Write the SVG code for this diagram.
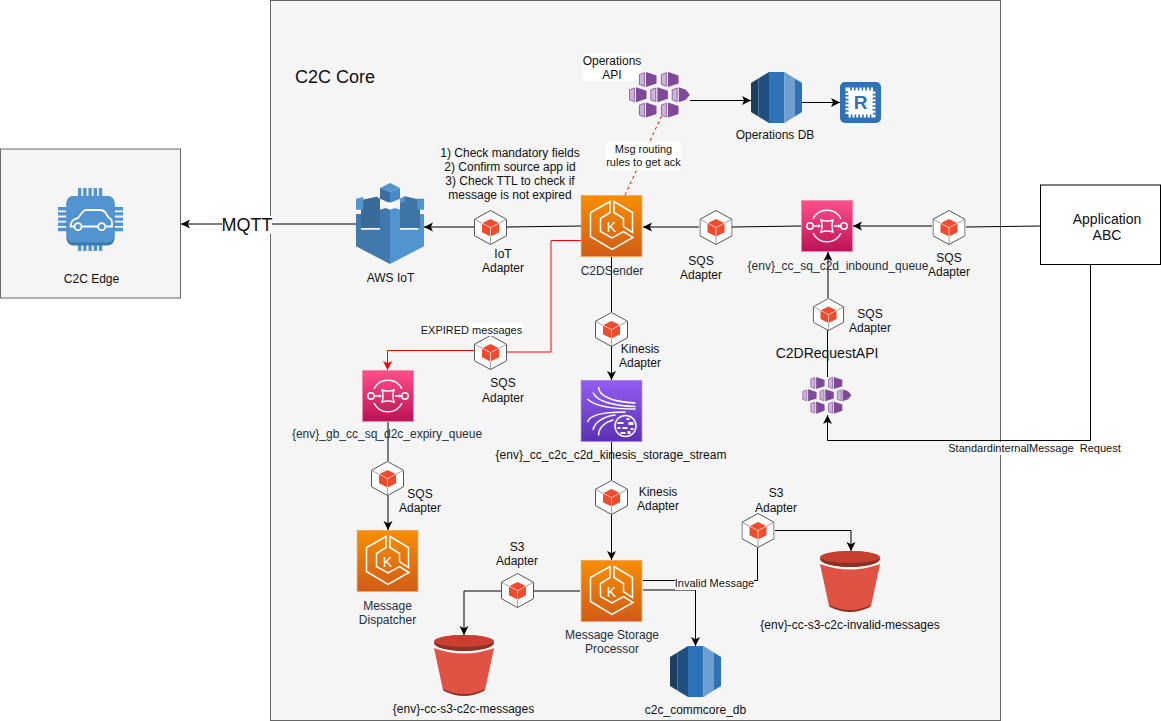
<svg xmlns="http://www.w3.org/2000/svg" width="1161" height="721" viewBox="0 0 1161 721">
<style>
text{font-family:"Liberation Sans",Arial,sans-serif;font-size:12px;text-anchor:middle;fill:#111;white-space:pre}
.a{fill:#232F3E}
.e{font-size:11px}
.box{fill:#f5f5f5;stroke:#666;stroke-width:1}
.ln{fill:none;stroke:#000;stroke-width:1}
.arr{marker-end:url(#ah)}
.red{fill:none;stroke:#f00;stroke-width:1}
.w{fill:none;stroke:#fff;stroke-width:1.5}
.bg{fill:#fff}
</style>
<defs>
<linearGradient id="go" x1="0" y1="0" x2="0" y2="1"><stop offset="0" stop-color="#F78E04"/><stop offset="1" stop-color="#D05C17"/></linearGradient>
<linearGradient id="gp" x1="0" y1="0" x2="0" y2="1"><stop offset="0" stop-color="#FF4F8B"/><stop offset="1" stop-color="#BC1356"/></linearGradient>
<linearGradient id="gv" x1="0" y1="0" x2="0" y2="1"><stop offset="0" stop-color="#945DF2"/><stop offset="1" stop-color="#5A30B5"/></linearGradient>
<marker id="ah" markerUnits="userSpaceOnUse" markerWidth="12" markerHeight="12" refX="9" refY="5" orient="auto"><path d="M9 5 L0 0.5 L2.2 5 L0 9.5Z" fill="#000"/></marker>
<marker id="ahr" markerUnits="userSpaceOnUse" markerWidth="12" markerHeight="12" refX="9" refY="5" orient="auto"><path d="M9 5 L0 0.5 L2.2 5 L0 9.5Z" fill="#f00"/></marker>
<clipPath id="rc"><path d="M0 11 18 0H33.5L51 11V40L33.5 51H18L0 40Z"/></clipPath>
<symbol id="hex" viewBox="0 0 33 35">
<path d="M16.5 .5 32.5 9.3V25.7L16.5 34.5 .5 25.7V9.3Z" fill="#fff" stroke="#555" stroke-width="1"/>
<path d="M.5 9.3 8 13.2M32.5 9.3 25 13.2M16.5 34.5V26.5" fill="none" stroke="#777" stroke-width=".7"/>
<path d="M16.5 9 25 13.2V22.2L16.5 26.5 8 22.2V13.2Z" fill="#F24A2C"/>
<path d="M8 13.2 16.5 17.6 25 13.2M16.5 17.6V26.5" fill="none" stroke="#fff" stroke-width=".7"/>
</symbol>
<symbol id="eks" viewBox="0 0 62 62">
<rect x=".5" y=".5" width="61" height="61" fill="url(#go)" stroke="#F5A757"/>
<path class="w" d="M29.500 6.500 10 17.500V41.500L31.500 54.500 52.500 42.500 43 36.500 31.500 43 20 36.500V23.500L29.500 17.500Z"/>
<path class="w" d="M33.500 6.500 52 17.500V37.500L43 31.500V23.500L33.500 17.500Z"/>
<text x="31" y="37" style="font-size:14px;fill:#fff">K</text>
</symbol>
<symbol id="sqs" viewBox="0 0 52 52">
<rect x=".5" y=".5" width="51" height="51" fill="url(#gp)" stroke="#F58AB0"/>
<path class="w" d="M12 19A15.5 15.5 0 0 1 40 19M12 33A15.5 15.5 0 0 0 40 33"/>
<circle class="w" cx="9" cy="26" r="3.2"/><circle class="w" cx="43" cy="26" r="3.2"/>
<path class="w" d="M20 20Q26 22 32 20 30 26 32 32 26 30 20 32 22 26 20 20Z"/>
<path class="w" d="M13 26H19M33 26H39"/>
<path d="M20 26 17 24V28ZM40 26 37 24V28Z" fill="#fff"/>
</symbol>
<symbol id="kin" viewBox="0 0 62 62">
<rect x=".5" y=".5" width="61" height="61" fill="url(#gv)" stroke="#A784E6"/>
<path class="w" d="M18 7C18 16 32 22 55 23M12.5 12.5C16 21 32 26 55 26.5M7 19C14 26 32 29 55 29M7 42C9 34 28 32 45 32M12.5 50C14 42 24 36 35 35M18 55.6C18 48 24 42 33 40"/>
<circle cx="45" cy="46" r="10.5" fill="none" stroke="#fff" stroke-width="1.5"/>
<path d="M37 42h6v2h-6zM46 38h3v2h-3zM48 42h5v3h-5zM37 47h3v2h-3zM42 47h5v2h-5zM50 48h3v2h-3zM40 52h5v2h-5zM47 51h3v3h-3z" fill="#fff"/>
</symbol>
<symbol id="rds" viewBox="0 0 51 51">
<g clip-path="url(#rc)">
<rect width="7.5" height="51" fill="#1A3F63"/><rect x="7.5" width="10.5" height="51" fill="#205081"/><rect x="18" width="15.5" height="51" fill="#2E73B8"/><rect x="33.5" width="10" height="51" fill="#6E9FD0"/><rect x="43.5" width="7.5" height="51" fill="#2E73B8"/>
</g>
</symbol>
<symbol id="s3" viewBox="0 0 60 61">
<path d="M0 13Q30 24 60 13L51 55Q30 65 9 55Z" fill="#E05243"/>
<path d="M9 54Q30 64 51 54L50 56Q30 66 10 56Z" fill="#8C3123"/>
<ellipse cx="30" cy="8" rx="30" ry="8" fill="#8C3123"/>
<ellipse cx="30" cy="6" rx="30" ry="6" fill="#C83E30"/>
<path d="M0 12Q30 22 60 12" fill="none" stroke="#f5f5f5" stroke-width="1.2"/>
</symbol>
<symbol id="aks" viewBox="0 0 61 46">
<path fill="#CDB3DC" stroke="#804998" stroke-width=".8" d="M10.400 2.500l5 -1.800v13.600l-5 -1.800zM32.400 2.500l5 -1.800v13.600l-5 -1.800zM.4 17.800l5 -1.800v13.600l-5 -1.800zM21.800 17.800l5 -1.800v13.600l-5 -1.800zM43.200 17.800l5 -1.800v13.600l-5 -1.800zM10.400 33.100l5 -1.800v13.600l-5 -1.800zM32.400 33.100l5 -1.800v13.600l-5 -1.800z"/>
<path fill="#804998" d="M17 0l10.500 3.500v8L17 15zM39 0l10.500 3.500v8L39 15zM7 15.300l10.500 3.500 .0 0v8L7 30.300zM28.400 15.300l10.500 3.500v8L28.400 30.300zM49.800 15.300l7 2.500 4 5 -4 5 -7 2.500zM17 30.600l10.500 3.500v8L17 45.600zM39 30.600l10.500 3.500v8L39 45.600z"/>
</symbol>
</defs>

<rect id="edge-box" class="box" x="0.5" y="149" width="180" height="149"/>
<rect id="core-box" class="box" x="270.500" y="0.500" width="730" height="720"/>

<g id="connectors">
<path class="ln arr" d="M356 224H181"/>
<path class="ln arr" d="M475 227H424"/>
<path class="ln" d="M507 227 581 226"/>
<path class="ln arr" d="M699 227H643"/>
<path class="ln" d="M732 227 801 226"/>
<path class="ln arr" d="M932 226H853"/>
<path class="ln" d="M1041 226 966 227"/>
<path class="ln" d="M611.500 257V312"/>
<path class="ln arr" d="M611.500 346V380"/>
<path class="ln" d="M611.500 442V480"/>
<path class="ln arr" d="M611.500 515V560"/>
<path class="ln" d="M388 422V461"/>
<path class="ln arr" d="M388 495V530"/>
<path class="red" d="M581 240.500H551V352H507"/>
<path class="red" d="M474 350.500H387.500V370" marker-end="url(#ahr)"/>
<path class="ln" d="M580 591H534"/>
<path class="ln arr" d="M501 591H464V635"/>
<path class="ln arr" d="M643 590H695.500V646"/>
<path class="ln" d="M643 580.500H757.500V548"/>
<path class="ln arr" d="M775 530.500H851V551"/>
<path class="ln arr" d="M690 100.500H751"/>
<path class="ln arr" d="M797 102.500H840"/>
<path class="red" stroke-dasharray="3 3" d="M625 195 662 115"/>
<path class="ln" d="M827.500 377V330"/>
<path class="ln arr" d="M828 298V252"/>
<path class="ln arr" d="M1090.500 264V440.500H827.500V415"/>
</g>

<g id="c2c-edge">
<path fill="#5294CF" d="M78 188h3.400v8H78zM83.200 188h3.400v8h-3.400zM88.400 188h3.400v8h-3.400zM93.600 188h3.400v8h-3.400zM98.800 188h3.400v8h-3.400zM78 245h3.400v6H78zM83.200 245h3.400v6h-3.400zM88.400 245h3.400v6h-3.400zM93.600 245h3.400v6h-3.400zM98.800 245h3.400v6h-3.400zM58 207h9v3.400h-9zM58 212.200h9v3.400h-9zM58 217.400h9v3.400h-9zM58 222.600h9v3.400h-9zM58 227.800h9v3.400h-9zM114 207h9v3.400h-9zM114 212.200h9v3.400h-9zM114 217.400h9v3.400h-9zM114 222.600h9v3.400h-9zM114 227.800h9v3.400h-9z"/>
<rect x="66.500" y="196" width="48" height="49.500" rx="7" fill="#3B78AB"/>
<rect x="66.500" y="196" width="48" height="46.500" rx="7" fill="#5294CF"/>
<path d="M74 226.500H70.500C71 221 73 219 78 218L83 211.500Q84 210 87 210H100Q103 210 105 212L109 218Q112 219 112 223V226.500H106M98 226.500H82" fill="none" stroke="#fff" stroke-width="1.800"/>
<circle cx="78" cy="226.700" r="3.500" fill="#5294CF" stroke="#fff" stroke-width="1.800"/>
<circle cx="101.700" cy="226.700" r="3.500" fill="#5294CF" stroke="#fff" stroke-width="1.800"/>
<text x="91.500" y="283">C2C Edge</text>
</g>

<g id="core-title"><text x="335" y="83" style="font-size:18px">C2C Core</text></g>

<g id="aws-iot" transform="translate(350 178) scale(.33333)">
<path d="M18 108H33V155H90V95L107 90 120 95V258L18 205Z" fill="#4279AC"/>
<path d="M120 95 135 90 150 95V155H205V108H222V205L120 258Z" fill="#5294CF"/>
<path d="M33 66 80 56 90 62V150H33Z" fill="#3A6A97"/>
<path d="M18 62 40 57V95H18Z" fill="#5294CF"/>
<path d="M150 62 165 55 210 65V150H150Z" fill="#3F74A6"/>
<path d="M150 62 165 55V70L150 76Z" fill="#5294CF"/>
<path d="M202 62 222 62V95H202Z" fill="#5294CF"/>
<path d="M90 30 120 15 150 30 120 42Z" fill="#5294CF"/>
<path d="M90 30 120 42V75L90 62Z" fill="#3B6E9E"/>
<path d="M120 42 150 30V62L120 75Z" fill="#4A8ACB"/>
<path d="M107 78 120 73 135 78 120 90Z" fill="#fff"/>
</g>
<g id="aws-iot-label"><text x="390.500" y="282">AWS IoT</text></g>

<g id="iot-adapter"><use href="#hex" x="474" y="210" width="33" height="35"/><text x="503" y="258">IoT</text><text x="503" y="272">Adapter</text></g>
<g id="c2d-sender"><use href="#eks" x="580.500" y="195" width="62" height="62"/><text class="a" x="612" y="275">C2DSender</text></g>
<g id="sqs-adapter-1"><use href="#hex" x="699.500" y="210" width="33" height="35"/><text x="701" y="265">SQS</text><text x="701" y="279">Adapter</text></g>
<g id="inbound-queue"><use href="#sqs" x="801" y="200" width="52" height="52"/><text class="a" x="838" y="270">{env}_cc_sq_c2d_inbound_queue</text></g>
<g id="sqs-adapter-2"><use href="#hex" x="932.500" y="210" width="33" height="35"/><text x="949" y="262">SQS</text><text x="949" y="276">Adapter</text></g>
<g id="application-abc"><rect x="1040.500" y="185" width="120" height="79.500" fill="#fff" stroke="#000"/><text x="1107" y="224" style="font-size:14px">Application</text><text x="1107" y="240" style="font-size:14px">ABC</text></g>

<g id="operations-api"><rect class="bg" x="583" y="54" width="58" height="27"/><text x="612" y="65">Operations</text><text x="612" y="79">API</text><use href="#aks" x="629" y="72" width="61" height="46"/></g>
<g id="operations-db"><use href="#rds" x="751" y="72" width="51" height="51"/><text x="775" y="139">Operations DB</text></g>
<g id="redis">
<rect x="840" y="82" width="41" height="41" rx="5" fill="#2E73B8"/>
<rect x="848.500" y="90.500" width="24" height="24" fill="#fff"/>
<rect x="848" y="90" width="25" height="25" fill="none" stroke="#fff" stroke-width="5" stroke-dasharray="2.200 1.600"/>
<text x="860.500" y="109" style="font-size:19px;font-weight:bold;fill:#2E73B8">R</text>
</g>

<g id="kinesis-adapter-1"><use href="#hex" x="595" y="312" width="33" height="35"/><text x="640" y="353">Kinesis</text><text x="640" y="367">Adapter</text></g>
<g id="storage-stream"><use href="#kin" x="580.500" y="380" width="62" height="62"/><text x="611" y="459">{env}_cc_c2c_c2d_kinesis_storage_stream</text></g>
<g id="kinesis-adapter-2"><use href="#hex" x="595" y="480" width="33" height="35"/><text x="658" y="496">Kinesis</text><text x="658" y="510">Adapter</text></g>
<g id="storage-processor"><use href="#eks" x="580.500" y="560" width="62" height="62"/><text class="a" x="612" y="639">Message Storage</text><text class="a" x="612" y="653">Processor</text></g>

<g id="sqs-adapter-expired"><use href="#hex" x="474" y="335" width="33" height="35"/><text x="503" y="387">SQS</text><text x="503" y="402">Adapter</text></g>
<g id="expiry-queue"><use href="#sqs" x="362" y="370" width="52" height="52"/><text class="a" x="387" y="438">{env}_gb_cc_sq_d2c_expiry_queue</text></g>
<g id="sqs-adapter-3"><use href="#hex" x="371" y="461" width="33" height="35"/><text x="420" y="498">SQS</text><text x="420" y="512">Adapter</text></g>
<g id="message-dispatcher"><use href="#eks" x="356.500" y="530" width="62" height="62"/><text class="a" x="387.500" y="610">Message</text><text class="a" x="387.500" y="624">Dispatcher</text></g>

<g id="s3-adapter-1"><use href="#hex" x="501" y="573" width="33" height="35"/><text x="517" y="551">S3</text><text x="517" y="565">Adapter</text></g>
<g id="s3-messages"><use href="#s3" x="434" y="635" width="60" height="61"/><text x="463.500" y="713">{env}-cc-s3-c2c-messages</text></g>
<g id="commcore-db"><use href="#rds" x="670" y="646" width="51" height="51"/><text x="695.500" y="714">c2c_commcore_db</text></g>
<g id="s3-adapter-2"><use href="#hex" x="741.500" y="513" width="33" height="35"/><text x="776" y="497">S3</text><text x="776" y="512">Adapter</text></g>
<g id="s3-invalid"><use href="#s3" x="820" y="551" width="60" height="61"/><text x="850" y="629">{env}-cc-s3-c2c-invalid-messages</text></g>

<g id="sqs-adapter-4"><use href="#hex" x="812" y="298" width="33" height="33"/><text x="870" y="318">SQS</text><text x="870" y="332">Adapter</text></g>
<g id="c2d-request-api"><text x="827" y="358" style="font-size:14px">C2DRequestAPI</text><use href="#aks" x="802" y="377" width="50" height="37"/></g>

<g id="check-notes"><text x="510" y="157">1) Check mandatory fields</text><text x="510" y="171">2) Confirm source app id</text><text x="510" y="185">3) Check TTL to check if</text><text x="510" y="199">message is not expired</text></g>

<g id="edge-labels">
<rect class="bg" x="222" y="216" width="50" height="18"/><text x="247" y="231" style="font-size:18px">MQTT</text>
<rect class="bg" x="606" y="142" width="75" height="28"/><text class="e" x="643.500" y="153">Msg routing</text><text class="e" x="643.500" y="166">rules to get ack</text>
<rect class="bg" x="421" y="323" width="102" height="13"/><text class="e" x="471.500" y="334">EXPIRED messages</text>
<rect class="bg" x="675" y="577" width="79" height="13"/><text class="e" x="714.500" y="587">Invalid Message</text>
<rect class="bg" x="948" y="442" width="173" height="13"/><text class="e" x="1034.500" y="452">StandardinternalMessage  Request</text>
</g>
</svg>
